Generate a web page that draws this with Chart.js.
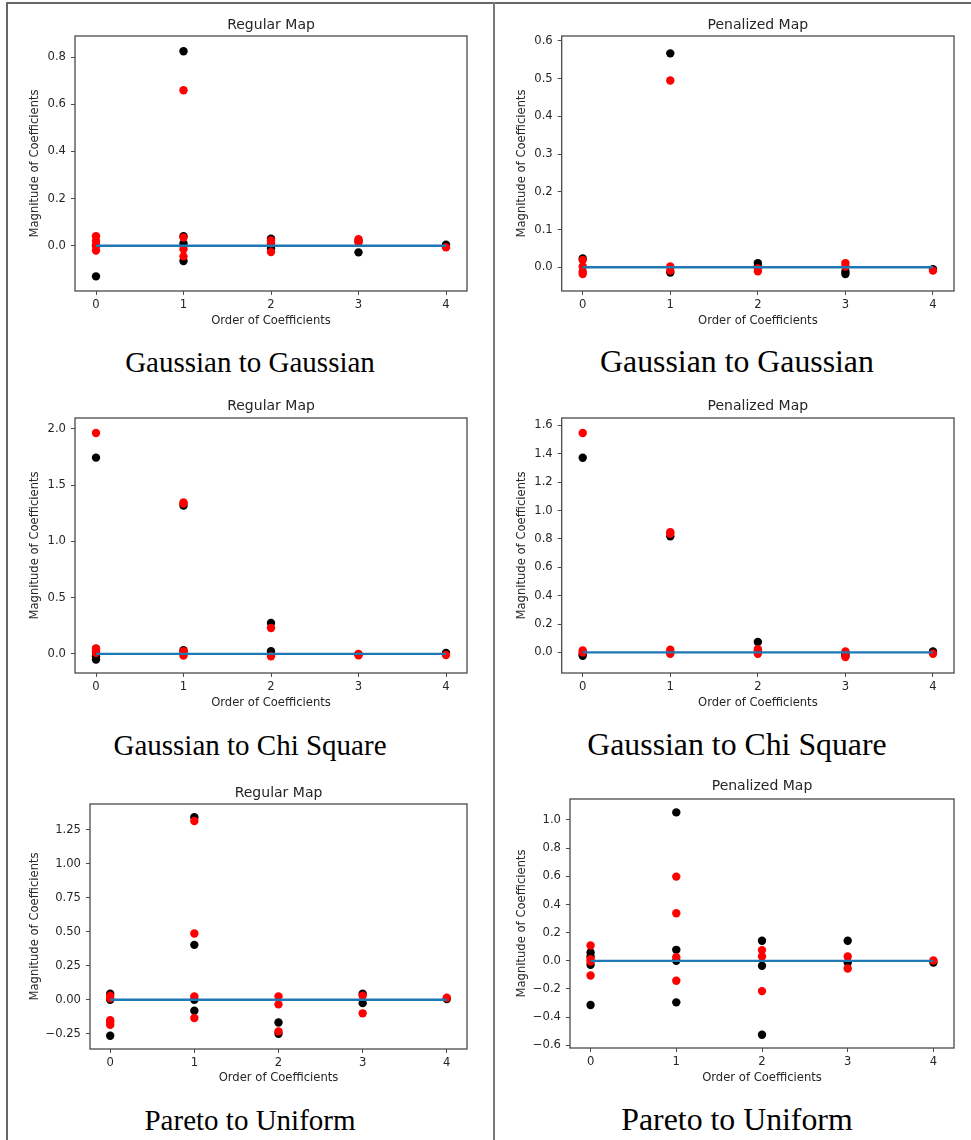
<!DOCTYPE html>
<html lang="en">
<head>
<meta charset="UTF-8">
<title>Regular vs Penalized Map</title>
<script src="https://cdn.jsdelivr.net/npm/chart.js@4"></script>
<style>
  body { margin: 0; background: #fff; }
  #page { position: relative; width: 971px; height: 1140px; overflow: hidden; }
  #page canvas { position: absolute; }
  .rule { position: absolute; background: #666; }
  .caption {
    position: absolute;
    width: 486px;
    text-align: center;
    font-family: "Liberation Serif", "Times New Roman", serif;
    font-size: 29px;
    line-height: 29px;
    color: #000;
    white-space: nowrap;
  }
  .caption.wide { font-size: 31.8px; line-height: 31.8px; }
</style>
</head>
<body>
<div id="page">
  <div class="rule" style="left:6px;top:2px;width:965px;height:2px"></div>
  <div class="rule" style="left:6px;top:2px;width:2px;height:1138px"></div>
  <div class="rule" style="left:493px;top:2px;width:2px;height:1138px;background:#7a7a7a"></div>

  <canvas id="c1"></canvas>
  <canvas id="c2"></canvas>
  <canvas id="c3"></canvas>
  <canvas id="c4"></canvas>
  <canvas id="c5"></canvas>
  <canvas id="c6"></canvas>

  <div class="caption" style="left:7px;top:348px">Gaussian to Gaussian</div>
  <div class="caption wide" style="left:494px;top:346px">Gaussian to Gaussian</div>
  <div class="caption" style="left:7px;top:731px">Gaussian to Chi Square</div>
  <div class="caption wide" style="left:494px;top:728.5px">Gaussian to Chi Square</div>
  <div class="caption" style="left:7px;top:1106px">Pareto to Uniform</div>
  <div class="caption wide" style="left:494px;top:1103.5px">Pareto to Uniform</div>
</div>

<script>
// order of coefficients (x) and the zero reference line
const orders = [0, 1, 2, 3, 4];
const baseline = [0, 0, 0, 0, 0];

// values per order: black and red points
// Gaussian to Gaussian - regular
const ggRegBlack = [[-0.13, 0.0], [0.825, 0.04, 0.01, -0.065], [0.03, -0.012], [0.02, -0.028], [0.004]];
const ggRegRed = [[0.04, 0.02, 0.0, -0.02], [0.66, 0.035, -0.015, -0.045], [0.022, 0.01, -0.027], [0.028, 0.014], [-0.007]];
const ggRegTicks = ["0.0", "0.2", "0.4", "0.6", "0.8"];

// Gaussian to Gaussian - penalized
const ggPenBlack = [[0.023], [0.567, -0.014], [0.011, 0.002], [-0.011, -0.018], [-0.005]];
const ggPenRed = [[0.019, 0.002, -0.011, -0.018], [0.495, 0.002, -0.009], [-0.003, -0.011], [0.011, 0.002], [-0.009]];
const ggPenTicks = ["0.0", "0.1", "0.2", "0.3", "0.4", "0.5", "0.6"];

// Gaussian to Chi Square - regular
const gcRegBlack = [[1.743, -0.02, -0.05], [1.317, 0.033, 0.003], [0.275, 0.024], [-0.005], [0.009]];
const gcRegRed = [[1.962, 0.05, 0.03, 0.01], [1.346, 1.335, 0.024, -0.015], [0.231, -0.021], [0.0, -0.012], [-0.009]];
const gcRegTicks = ["0.0", "0.5", "1.0", "1.5", "2.0"];

// Gaussian to Chi Square - penalized
const gcPenBlack = [[1.372, -0.012, -0.023], [0.818, 0.0], [0.073, 0.007], [-0.009, -0.025], [0.007]];
const gcPenRed = [[1.546, 0.014, 0.0], [0.848, 0.836, 0.019, -0.009], [0.023, -0.009], [0.007, -0.033], [-0.009]];
const gcPenTicks = ["0.0", "0.2", "0.4", "0.6", "0.8", "1.0", "1.2", "1.4", "1.6"];

// Pareto to Uniform - regular
const puRegBlack = [[0.044, 0.0, -0.265], [1.343, 0.404, 0.0, -0.081], [-0.167, -0.25], [0.044, -0.025], [0.005]];
const puRegRed = [[0.029, 0.01, -0.15, -0.165, -0.185], [1.316, 0.488, 0.025, -0.135], [0.025, -0.034, -0.233], [0.029, -0.1], [0.015]];
const puRegTicks = ["\u22120.25", "0.00", "0.25", "0.50", "0.75", "1.00", "1.25"];

// Pareto to Uniform - penalized
const puPenBlack = [[0.059, 0.031, -0.028, -0.314], [1.054, 0.078, 0.0, -0.295], [0.142, -0.035, -0.525], [0.142, -0.012], [-0.012]];
const puPenRed = [[0.109, 0.012, -0.005, -0.104], [0.598, 0.338, 0.026, -0.142], [0.076, 0.031, -0.215], [0.031, -0.054], [0.002]];
const puPenTicks = ["\u22120.6", "\u22120.4", "\u22120.2", "0.0", "0.2", "0.4", "0.6", "0.8", "1.0"];

// page layout of each panel: plot box [left, top, right, bottom] in page pixels
const panels = [
  { id: "c1", title: "Regular Map", black: ggRegBlack, red: ggRegRed, ticks: ggRegTicks, yMin: -0.192, yMax: 0.890,
    plot: [75, 36, 466.7, 291], titleY: 25, xLabelY: 321, yLabelX: 35, left: 10 },
  { id: "c2", title: "Penalized Map", black: ggPenBlack, red: ggPenRed, ticks: ggPenTicks, yMin: -0.063, yMax: 0.613,
    plot: [561.7, 36, 954, 291], titleY: 25, xLabelY: 321, yLabelX: 521.7, left: 497 },
  { id: "c3", title: "Regular Map", black: gcRegBlack, red: gcRegRed, ticks: gcRegTicks, yMin: -0.169, yMax: 2.095,
    plot: [75, 418.3, 466.7, 673.3], titleY: 406.7, xLabelY: 703.3, yLabelX: 35, left: 10 },
  { id: "c4", title: "Penalized Map", black: gcPenBlack, red: gcPenRed, ticks: gcPenTicks, yMin: -0.145, yMax: 1.652,
    plot: [561.7, 418.3, 954, 673.3], titleY: 406.7, xLabelY: 703.3, yLabelX: 521.7, left: 497 },
  { id: "c5", title: "Regular Map", black: puRegBlack, red: puRegRed, ticks: puRegTicks, yMin: -0.3625, yMax: 1.441,
    plot: [90, 804, 467.3, 1049.3], titleY: 793.3, xLabelY: 1078.3, yLabelX: 35, left: 10 },
  { id: "c6", title: "Penalized Map", black: puPenBlack, red: puPenRed, ticks: puPenTicks, yMin: -0.619, yMax: 1.149,
    plot: [570, 799, 954, 1048.3], titleY: 786.7, xLabelY: 1078.3, yLabelX: 521.7, left: 497 }
];

const FONT = "DejaVu Sans";
const TICK_SIZE = 11.6;
const TITLE_SIZE = 14;
const INK = "#262626";
const FRAME = "#4a4a4a";

function toPoints(groups) {
  const pts = [];
  groups.forEach((vals, i) => vals.forEach(v => pts.push({ x: orders[i], y: v })));
  return pts;
}

const framePlugin = {
  id: "frame",
  afterDatasetsDraw(chart) {
    const a = chart.chartArea;
    const ctx = chart.ctx;
    ctx.save();
    ctx.strokeStyle = FRAME;
    ctx.lineWidth = 1.3;
    ctx.strokeRect(a.left, a.top, a.right - a.left, a.bottom - a.top);
    ctx.restore();
  }
};

panels.forEach(p => {
  const [pl, pt, pr, pb] = p.plot;
  const cTop = pt - 30;
  const cBottom = pb + 42;
  const cRight = pr + 14;
  const canvas = document.getElementById(p.id);
  canvas.width = Math.round(cRight - p.left);
  canvas.height = Math.round(cBottom - cTop);
  canvas.style.left = p.left + "px";
  canvas.style.top = cTop + "px";

  const titlePadTop = p.titleY - cTop - TITLE_SIZE / 2;
  const titlePadBottom = pt - cTop - titlePadTop - TITLE_SIZE;
  const yAxisWidth = pl - p.left;
  const xAxisHeight = cBottom - pb;
  const yTicks = p.ticks.map(t => parseFloat(t.replace("\u2212", "-")));

  new Chart(canvas, {
    type: "scatter",
    data: {
      datasets: [
        {
          type: "line",
          data: orders.map((x, i) => ({ x: x, y: baseline[i] })),
          showLine: true,
          borderColor: "#1f77b4",
          borderWidth: 2.3,
          pointRadius: 0,
          order: 0
        },
        {
          data: toPoints(p.red),
          backgroundColor: "#ff0000",
          borderWidth: 0,
          pointRadius: 4.2,
          order: 1
        },
        {
          data: toPoints(p.black),
          backgroundColor: "#000000",
          borderWidth: 0,
          pointRadius: 4.2,
          order: 2
        }
      ]
    },
    options: {
      responsive: false,
      animation: false,
      devicePixelRatio: 1,
      layout: { padding: { left: 0, top: 0, right: cRight - pr, bottom: 0 } },
      plugins: {
        legend: { display: false },
        tooltip: { enabled: false },
        title: {
          display: true,
          text: p.title,
          fullSize: false,
          color: INK,
          font: { family: FONT, size: TITLE_SIZE, weight: "normal", lineHeight: 1 },
          padding: { top: titlePadTop, bottom: titlePadBottom }
        }
      },
      scales: {
        x: {
          type: "linear",
          min: -0.24,
          max: 4.24,
          afterBuildTicks: s => { s.ticks = orders.map(v => ({ value: v })); },
          afterFit: s => { s.height = xAxisHeight; },
          ticks: {
            color: INK,
            padding: 3,
            font: { family: FONT, size: TICK_SIZE },
            callback: v => String(v)
          },
          grid: { drawOnChartArea: false, drawTicks: true, tickLength: 4, tickColor: FRAME },
          border: { display: false },
          title: {
            display: true,
            text: "Order of Coefficients",
            color: INK,
            font: { family: FONT, size: TICK_SIZE, lineHeight: 1 },
            padding: { top: 0, bottom: cBottom - p.xLabelY - TICK_SIZE / 2 }
          }
        },
        y: {
          type: "linear",
          min: p.yMin,
          max: p.yMax,
          afterBuildTicks: s => { s.ticks = yTicks.map(v => ({ value: v })); },
          afterFit: s => { s.width = yAxisWidth; },
          ticks: {
            color: INK,
            padding: 5,
            font: { family: FONT, size: TICK_SIZE },
            callback: (v, i) => p.ticks[i]
          },
          grid: { drawOnChartArea: false, drawTicks: true, tickLength: 4, tickColor: FRAME },
          border: { display: false },
          title: {
            display: true,
            text: "Magnitude of Coefficients",
            color: INK,
            font: { family: FONT, size: TICK_SIZE, lineHeight: 1 },
            padding: { top: p.yLabelX - p.left - TICK_SIZE / 2, bottom: 0 }
          }
        }
      }
    },
    plugins: [framePlugin]
  });
});
</script>
</body>
</html>
